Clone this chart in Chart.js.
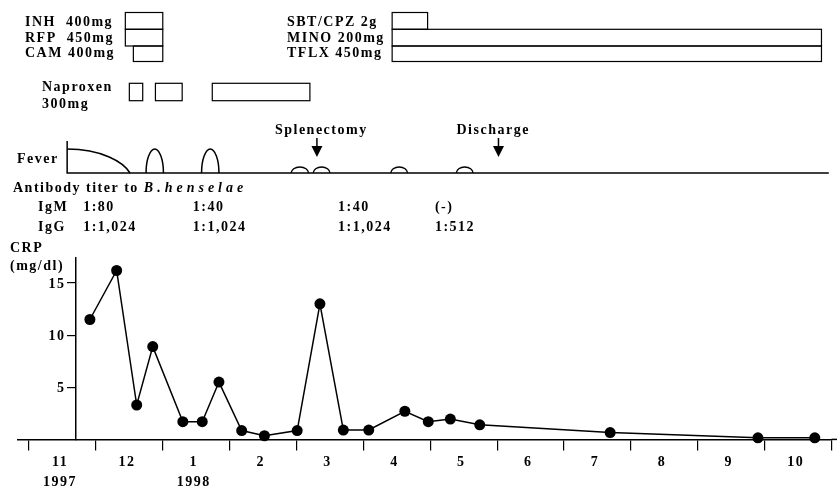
<!DOCTYPE html>
<html><head><meta charset="utf-8">
<script src="https://cdn.jsdelivr.net/npm/chart.js@4/dist/chart.umd.min.js"></script>
<style>html,body{margin:0;padding:0;background:#fff;overflow:hidden}#wrap{width:837px;height:495px}</style>
</head><body><div id="wrap"><canvas id="c" width="837" height="495"></canvas></div>
<script>
// ---- data ----
const monthLabels = ['11','12','1','2','3','4','5','6','7','8','9','10'];
const yearLabels  = ['1997','','1998','','','','','','','','',''];
const monthTicks  = [0,1,2,3,4,5,6,7,8,9,10,11,12];   // month boundaries (0 = 1 Nov 1997)
const crpTicks    = [5,10,15];
const crpDates  = [0.91,1.31,1.61,1.85,2.30,2.59,2.84,3.18,3.52,4.01,4.35,4.70,5.08,5.62,5.97,6.30,6.74,8.69,10.90,11.75];
const crpValues = [11.5,16.2,3.3,8.9,1.7,1.7,5.5,0.85,0.35,0.85,13.0,0.9,0.9,2.7,1.7,1.95,1.4,0.65,0.15,0.15];
const drugNames = ['INH  400mg','RFP  450mg','CAM 400mg','SBT/CPZ 2g','MINO 200mg','TFLX 450mg'];
const drugGroup = [0,0,0,1,1,1];
const drugRow   = [0,1,2,0,1,2];
const drugStart = [1.44,1.44,1.56,5.43,5.43,5.43];
const drugEnd   = [2.00,2.00,2.00,5.96,11.85,11.85];
const naproxenLabel = ['Naproxen','300mg'];
const naproxenStart = [1.50,1.89,2.74];
const naproxenEnd   = [1.70,2.29,4.20];
const feverOngoing = [0.57,1.51];
const feverStart = [1.75,2.58,3.92,4.25,5.41,6.39];
const feverEnd   = [2.01,2.84,4.18,4.50,5.66,6.64];
const feverPeak  = [1,1,0.25,0.25,0.25,0.25];
const feverAxisEnd = 11.96;
const eventNames = ['Splenectomy','Discharge'];
const eventDates = [4.305,7.02];
const titerDates = [0.81,2.45,4.62,6.07];
const igmTiters = ['1:80','1:40','1:40','(-)'];
const iggTiters = ['1:1,024','1:1,024','1:1,024','1:512'];

const SERIF = '"Liberation Serif", "Times New Roman", serif';
const LS = '1.5px';
const Y_AXIS_AT = 0.703;

const annotations = {
  id: 'annotations',
  beforeLayout(chart){ chart.ctx.letterSpacing = '1.5px'; },
  beforeDraw(chart){ chart.ctx.letterSpacing = '1.5px'; },
  afterDraw(chart){
    const ctx = chart.ctx, xs = chart.scales.x, ys = chart.scales.y;
    const px = v => xs.getPixelForValue(v);
    ctx.save();
    ctx.letterSpacing = LS;
    ctx.fillStyle = '#000'; ctx.strokeStyle = '#000';
    ctx.textBaseline = 'alphabetic'; ctx.textAlign = 'left';
    ctx.font = 'bold 14px ' + SERIF;
    // x axis line continues to the right edge
    ctx.lineWidth = 1.5;
    ctx.beginPath(); ctx.moveTo(chart.chartArea.right, ys.getPixelForValue(0)); ctx.lineTo(chart.width, ys.getPixelForValue(0)); ctx.stroke();
    // y tick labels
    ctx.textAlign = 'right'; ctx.textBaseline = 'middle';
    const yAxisX = px(Y_AXIS_AT);
    crpTicks.forEach(v => ctx.fillText(String(v), yAxisX - 10.5, ys.getPixelForValue(v) + 1));
    ctx.textAlign = 'left'; ctx.textBaseline = 'alphabetic';
    // drug rows
    const rowTop = [12.5, 29.3, 46], rowH = [16.8, 16.7, 15.5];
    const labelX = [25, 287], labelBase = [25.5, 41.5, 57];
    ctx.lineWidth = 1.2;
    drugNames.forEach((n,i)=>{
      const r = drugRow[i];
      ctx.fillText(n, labelX[drugGroup[i]], labelBase[r]);
      const x0 = px(drugStart[i]), x1 = px(drugEnd[i]);
      ctx.strokeRect(x0, rowTop[r], x1-x0, rowH[r]);
    });
    // naproxen
    ctx.fillText(naproxenLabel[0], 42, 91);
    ctx.fillText(naproxenLabel[1], 42, 108);
    naproxenStart.forEach((s,i)=>{
      const x0 = px(s), x1 = px(naproxenEnd[i]);
      ctx.strokeRect(x0, 83.3, x1-x0, 17.4);
    });
    // fever
    const base = 173, fh = 24;
    ctx.fillText('Fever', 17, 163);
    ctx.lineWidth = 1.5;
    ctx.beginPath();
    const fx0 = px(feverOngoing[0]), fx1 = px(feverOngoing[1]);
    ctx.moveTo(fx0, base - 32); ctx.lineTo(fx0, base); ctx.lineTo(px(feverAxisEnd), base);
    ctx.stroke();
    ctx.beginPath();
    const w = fx1 - fx0;
    ctx.moveTo(fx0, base - fh);
    ctx.bezierCurveTo(fx0 + 0.55*w, base - fh, fx0 + 0.9*w, base - 0.45*fh, fx1, base);
    ctx.stroke();
    feverStart.forEach((s,i)=>{
      const a = px(s), b = px(feverEnd[i]);
      ctx.beginPath();
      ctx.ellipse((a+b)/2, base, (b-a)/2, fh*feverPeak[i], 0, Math.PI, 2*Math.PI);
      ctx.stroke();
    });
    // events
    eventNames.forEach((n,i)=>{
      const x = px(eventDates[i]);
      ctx.fillText(n, x - 42, 133.5);
      ctx.lineWidth = 1.5;
      ctx.beginPath(); ctx.moveTo(x, 138); ctx.lineTo(x, 147); ctx.stroke();
      ctx.beginPath(); ctx.moveTo(x-5.5, 146); ctx.lineTo(x+5.5, 146); ctx.lineTo(x, 157); ctx.closePath(); ctx.fill();
    });
    // antibody titers
    ctx.fillText('Antibody titer to ', 13, 192);
    const w1 = ctx.measureText('Antibody titer to ').width;
    ctx.font = 'italic bold 14px ' + SERIF;
    ctx.letterSpacing = '4px';
    ctx.fillText('B.henselae', 13 + w1, 192);
    ctx.letterSpacing = LS;
    ctx.font = 'bold 14px ' + SERIF;
    ctx.fillText('IgM', 38, 210.5);
    ctx.fillText('IgG', 38, 230.5);
    titerDates.forEach((d,i)=>{
      const x = px(d);
      ctx.fillText(igmTiters[i], x, 210.5);
      ctx.fillText(iggTiters[i], x, 230.5);
    });
    // CRP axis title
    ctx.fillText('CRP', 10, 251.5);
    ctx.fillText('(mg/dl)', 10, 270);
    ctx.restore();
  }
};

new Chart(document.getElementById('c'), {
  type: 'line',
  data: { datasets: [{
    data: crpDates.map((d,i)=>({x:d, y:crpValues[i]})),
    borderColor:'#000', borderWidth:1.5, tension:0,
    pointRadius:5.5, pointHoverRadius:5.5, pointBackgroundColor:'#000', pointBorderColor:'#000', pointBorderWidth:0,
    clip:false
  }]},
  options: {
    responsive:false, animation:false, devicePixelRatio:1,
    layout:{ padding:{ top:258, left:18, right:0, bottom:0 } },
    plugins:{ legend:{display:false}, tooltip:{enabled:false} },
    events: [],
    scales:{
      x:{ type:'linear', min:-0.165, max:12.0,
        afterBuildTicks: s => { s.ticks = monthTicks.map(v=>({value:v})); },
        grid:{ display:true, drawOnChartArea:false, drawTicks:true, tickLength:11, color:'#000', lineWidth:1.2 },
        border:{ display:true, color:'#000', width:1.5 },
        ticks:{ autoSkip:false, maxRotation:0, minRotation:0, padding:2, labelOffset:31, color:'#000',
          font:{ family:SERIF, weight:'bold', size:14, lineHeight:1.45 },
          callback:(v,i)=> i < monthLabels.length ? (yearLabels[i] ? [monthLabels[i], yearLabels[i]] : monthLabels[i]) : '' }
      },
      y:{ type:'linear', min:0, max:17.4, position:{x:Y_AXIS_AT},
        afterBuildTicks: s => { s.ticks = crpTicks.map(v=>({value:v})); },
        grid:{ display:true, drawOnChartArea:false, drawTicks:true, tickLength:8, color:'#000', lineWidth:1.2 },
        border:{ display:true, color:'#000', width:1.5 },
        ticks:{ display:false }
      }
    }
  },
  plugins:[annotations]
});
</script></body></html>
